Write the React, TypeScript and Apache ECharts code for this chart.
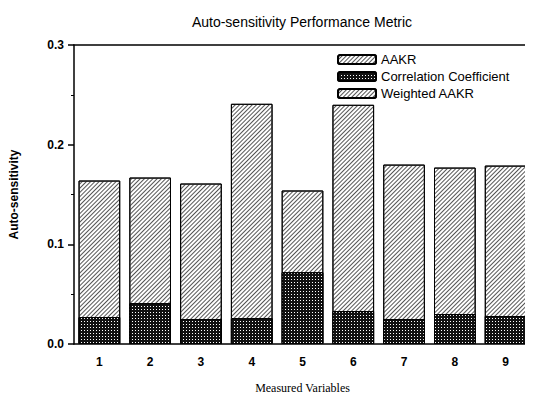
import React, { useEffect, useRef } from "react";
import * as echarts from "echarts";

const categories = ["1", "2", "3", "4", "5", "6", "7", "8", "9"];
const aakr = [0.164, 0.167, 0.161, 0.241, 0.154, 0.240, 0.180, 0.177, 0.179];
const correlation = [0.027, 0.041, 0.025, 0.026, 0.072, 0.033, 0.025, 0.030, 0.028];
const weightedAakr: (number | null)[] = [null, null, null, null, null, null, null, null, null];
const yTicks = [0, 0.1, 0.2, 0.3];

const hatch = {
  symbol: "rect",
  symbolSize: 1,
  color: "#555",
  backgroundColor: "#fff",
  dashArrayX: [1, 0],
  dashArrayY: [1, 2],
  rotation: -Math.PI / 4,
};
const dots = {
  symbol: "rect",
  symbolSize: 1,
  color: "#fff",
  backgroundColor: "#111",
  dashArrayX: [1, 2],
  dashArrayY: [1, 2],
  rotation: 0,
};

export default function App() {
  const ref = useRef<HTMLDivElement>(null);
  useEffect(() => {
    const chart = echarts.init(ref.current!, null, { renderer: "svg" });
    const sans = "Liberation Sans";
    chart.setOption({
      animation: false,
      backgroundColor: "#fff",
      title: {
        text: "Auto-sensitivity Performance Metric",
        left: 297,
        textAlign: "center",
        top: 10,
        textStyle: { fontFamily: sans, fontSize: 14, fontWeight: "normal", color: "#000" },
      },
      legend: {
        orient: "vertical",
        left: 332,
        top: 48,
        itemWidth: 38,
        itemHeight: 9,
        itemGap: 4,
        textStyle: { fontFamily: sans, fontSize: 13, color: "#000" },
        data: ["AAKR", "Correlation Coefficient", "Weighted AAKR"],
      },
      grid: { left: 73, right: 2, top: 45, bottom: 58 },
      xAxis: [
        {
          type: "category",
          data: categories,
          position: "bottom",
          name: "Measured Variables",
          nameLocation: "middle",
          nameGap: 38,
          nameTextStyle: { fontFamily: "Liberation Serif", fontSize: 12, color: "#000" },
          axisLine: { lineStyle: { color: "#000", width: 1.5 } },
          axisTick: { alignWithLabel: true, length: 6, lineStyle: { color: "#000", width: 1.5 } },
          axisLabel: { fontFamily: sans, fontSize: 12, color: "#000", margin: 12, fontWeight: "bold" },
        },
        {
          type: "category",
          data: categories,
          position: "bottom",
          axisLine: { show: false },
          axisTick: { length: 3, lineStyle: { color: "#000", width: 1.5 } },
          axisLabel: { show: false },
        },
        {
          type: "category",
          data: categories,
          position: "top",
          axisLine: { lineStyle: { color: "#000", width: 1.5 } },
          axisTick: { show: false },
          axisLabel: { show: false },
        },
      ],
      yAxis: {
        type: "value",
        min: yTicks[0],
        max: yTicks[yTicks.length - 1],
        interval: 0.1,
        name: "Auto-sensitivity",
        nameLocation: "middle",
        nameGap: 54,
        nameTextStyle: { fontFamily: sans, fontSize: 12, color: "#000", fontWeight: "bold" },
        axisLine: { show: true, lineStyle: { color: "#000", width: 1.5 } },
        axisTick: { show: true, length: 6, lineStyle: { color: "#000", width: 1.5 } },
        minorTick: { show: true, splitNumber: 2, length: 3, lineStyle: { color: "#000" } },
        splitLine: { show: false },
        axisLabel: {
          fontFamily: sans,
          fontSize: 12,
          color: "#000",
          margin: 10,
          fontWeight: "bold",
          formatter: (v: number) => v.toFixed(1),
        },
      },
      series: [
        {
          name: "AAKR",
          type: "bar",
          data: aakr,
          barWidth: "82%",
          barGap: "-100%",
          itemStyle: { color: "#fff", borderColor: "#000", borderWidth: 1, decal: hatch },
        },
        {
          name: "Correlation Coefficient",
          type: "bar",
          data: correlation,
          barWidth: "82%",
          barGap: "-100%",
          itemStyle: { color: "#111", borderColor: "#000", borderWidth: 1, decal: dots },
        },
        {
          name: "Weighted AAKR",
          type: "bar",
          data: weightedAakr,
          barWidth: "82%",
          barGap: "-100%",
          itemStyle: { color: "#fff", borderColor: "#000", borderWidth: 0.5, decal: hatch },
        },
      ],
    });
    return () => chart.dispose();
  }, []);
  return <div ref={ref} style={{ width: 533, height: 402, margin: -8 }} />;
}
